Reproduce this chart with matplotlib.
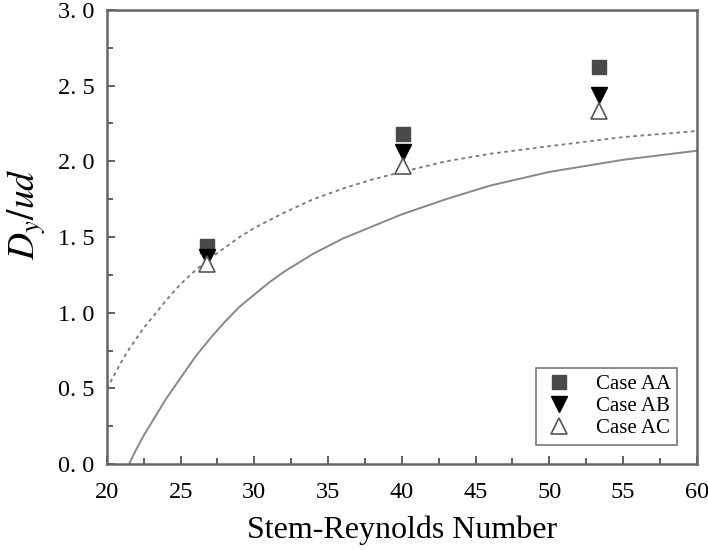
import matplotlib
matplotlib.use('Agg')
import matplotlib.pyplot as plt
from matplotlib.ticker import MultipleLocator

plt.rcParams['font.family'] = ['Liberation Serif', 'DejaVu Serif']
plt.rcParams['mathtext.fontset'] = 'stix'

# measured points
re_num = [26.8, 40.1, 53.4]
case_aa = [1.44, 2.18, 2.62]
case_ab = [1.37, 2.06, 2.44]
case_ac = [1.32, 1.97, 2.33]

# dotted curve
dot_x = [20, 20.5, 21, 21.5, 22, 22.5, 23, 23.5, 24, 25, 26, 27, 28, 29, 30, 32, 34, 36, 38,
         40, 43, 46, 50, 55, 60]
dot_y = [0.50, 0.59, 0.68, 0.76, 0.83, 0.90, 0.96, 1.02, 1.08, 1.19, 1.28, 1.36, 1.43, 1.50,
         1.56, 1.66, 1.75, 1.82, 1.88, 1.93, 2.00, 2.05, 2.10, 2.16, 2.20]

# solid curve
sol_x = [21.5, 22, 22.5, 23, 23.5, 24, 24.5, 25, 26, 27, 28, 29, 30, 31, 32, 34, 36, 38,
         40, 43, 46, 50, 55, 60]
sol_y = [0.0, 0.10, 0.19, 0.27, 0.35, 0.43, 0.50, 0.57, 0.71, 0.83, 0.94, 1.04, 1.12,
         1.20, 1.27, 1.39, 1.49, 1.57, 1.65, 1.75, 1.84, 1.93, 2.01, 2.07]

xticks = [20, 25, 30, 35, 40, 45, 50, 55, 60]
yticks = [0.0, 0.5, 1.0, 1.5, 2.0, 2.5, 3.0]

fig = plt.figure(figsize=(7.08, 5.5), dpi=100)
ax = fig.add_axes([0.151, 0.156, 0.833, 0.826])

ax.plot(dot_x, dot_y, color='#777777', lw=1.3, ls=(0, (2, 2)))
ax.plot(sol_x, sol_y, color='#888888', lw=1.4)

ax.plot(re_num, case_aa, ls='none', marker='s', ms=10, color='#4a4a4a', label='Case AA')
ax.plot(re_num, case_ab, ls='none', marker='v', ms=12, color='black', label='Case AB')
ax.plot(re_num, case_ac, ls='none', marker='^', ms=12, mfc='white', mec='#555555',
        mew=1.2, label='Case AC')

ax.set_xlim(20, 60)
ax.set_ylim(0, 3.0)
ax.set_xticks(xticks)
ax.set_xticklabels([str(v) for v in xticks])
ax.set_yticks(yticks)
ax.set_yticklabels([('%.1f' % v).replace('.', '. ') for v in yticks])
ax.xaxis.set_minor_locator(MultipleLocator(2.5))
ax.yaxis.set_minor_locator(MultipleLocator(0.25))
ax.tick_params(which='both', direction='in', top=False, right=False,
               color='#444444', width=1.2, labelsize=17.5)
ax.tick_params(which='major', length=6)
ax.tick_params(which='minor', length=4)
ax.tick_params(axis='x', pad=13)
ax.tick_params(axis='y', pad=9)
for sp in ax.spines.values():
    sp.set_color('#666666')
    sp.set_linewidth(1.8)

ax.set_xlabel('Stem-Reynolds Number', fontsize=23, labelpad=9)
ax.set_ylabel(r'$D_y/ud$', fontsize=27)
ax.yaxis.set_label_coords(-0.1, 0.55)

leg = ax.legend(loc='lower right', fontsize=15, fancybox=False, framealpha=1,
                edgecolor='#777777', handletextpad=1.0, borderpad=0.3,
                labelspacing=0.12, handlelength=1.6, bbox_to_anchor=(0.985, 0.02))
leg.get_frame().set_linewidth(1.2)

fig.savefig('out.png', dpi=100)
